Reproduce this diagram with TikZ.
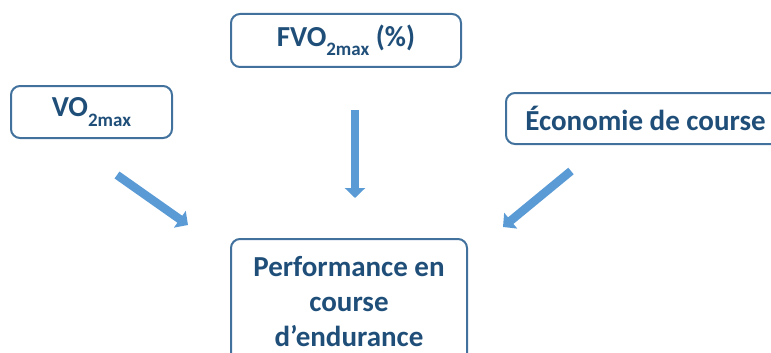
\documentclass[tikz,border=0pt]{standalone}
\usepackage{fontspec}
\setmainfont{Carlito}
\usepackage{xcolor}
\usepackage{tikz}
\usetikzlibrary{arrows.meta}

\definecolor{boxline}{HTML}{41719C}
\definecolor{boxtext}{HTML}{1F4E79}
\definecolor{arrowfill}{HTML}{5B9BD5}

\newcommand{\lowidx}[1]{\raisebox{-0.32em}{\fontsize{19}{19}\selectfont #1}}

\begin{document}
\begin{tikzpicture}[
  x=1pt, y=-1pt,
  font=\fontsize{29}{35}\selectfont\bfseries,
  factor/.style={rectangle, draw=boxline, line width=2pt, rounded corners=9pt,
                 text=boxtext, align=center, inner sep=0pt},
  blockarrow/.style={draw=arrowfill, line width=8.5pt,
                     -{Triangle[length=10pt, width=20pt]}},
]
  \clip (0,0) rectangle (771,353);

  \node[factor, minimum width=230pt, minimum height=53pt] (fvo)
    at (346,40.5) {FVO\lowidx{2max} (\%)};
  \node[factor, minimum width=161pt, minimum height=52pt] (vo)
    at (91.5,112) {VO\lowidx{2max}};
  \node[factor, minimum width=279pt, minimum height=51pt] (eco)
    at (645.5,118.5) {Économie de course};
  \node[factor, minimum width=236pt, minimum height=126pt] (perf)
    at (349,302) {Performance en\\course\\d’endurance};

  % free ends of the block arrows
  \coordinate (vostart)  at (117,175);
  \coordinate (voend)    at (188,225);
  \coordinate (fvostart) at (355,110);
  \coordinate (fvoend)   at (355,198);
  \coordinate (ecostart) at (571,171);
  \coordinate (ecoend)   at (503,227);

  \draw[blockarrow] (vostart) -- (voend);
  \draw[blockarrow] (fvostart) -- (fvoend);
  \draw[blockarrow] (ecostart) -- (ecoend);
\end{tikzpicture}
\end{document}
